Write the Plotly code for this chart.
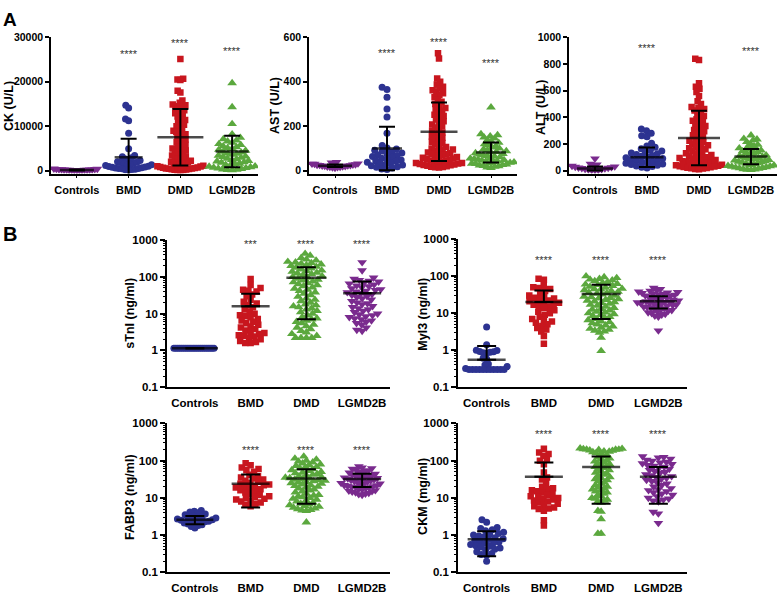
import math
import plotly.graph_objects as go

W, H = 782, 595
FONT = "Liberation Sans, Arial, sans-serif"
GROUPS = ["Controls", "BMD", "DMD", "LGMD2B"]

# ---------------- Panel A (linear) ----------------
ck_controls = [420, 380, 350, 310, 280, 260, 240, 220, 200, 190, 170, 160, 150, 130, 120, 100, 90, 70]
ck_bmd = [14700, 14100, 11600, 11200, 8400, 4900, 3400, 3100, 2900, 2600, 2400, 2300, 2000, 1900, 1800,
          1700, 1500, 1400, 1300, 1200, 1150, 1000, 900, 800, 750, 650, 600, 500, 450, 400, 300, 250, 200, 120]
ck_dmd = [25100, 20700, 20500, 20400, 18000, 17600, 15800, 15300, 14900, 14700, 14500, 14300, 14000, 13600,
          13200, 12900, 12600, 12200, 11900, 11400, 11000, 10700, 10300, 10000, 9700, 9400, 9000, 8700, 8500,
          8200, 7900, 7600, 7300, 7000, 6700, 6400, 6100, 5800, 5500, 5300, 5000, 4800, 4500, 4300, 4100, 3900,
          3600, 3400, 3200, 3000, 2800, 2600, 2400, 2200, 2000, 1900, 1700, 1600, 1400, 1300, 1200, 1100, 1000,
          900, 800, 700, 650, 600, 500, 450, 400, 350, 300, 250, 200, 150, 100, 60]
ck_lgmd = [19700, 14300, 10500, 8200, 7400, 7100, 6800, 6600, 6300, 6000, 5800, 5500, 5300, 5100, 4900, 4700,
           4500, 4300, 4100, 3900, 3800, 3600, 3400, 3200, 3100, 2900, 2700, 2600, 2400, 2200, 2100, 1900, 1800,
           1600, 1500, 1300, 1200, 1000, 900, 800, 700, 600, 500, 400, 300, 250, 150, 100]
ck_mean = [150, 3000, 7500, 4300]
ck_sd = [100, 4150, 6350, 3550]

ast_controls = [38, 36, 34, 32, 31, 30, 28, 27, 26, 25, 24, 23, 22, 21, 20, 19, 18, 17, 16, 15, 14, 12]
ast_bmd = [375, 365, 330, 278, 242, 168, 113, 102, 98, 92, 88, 84, 80, 76, 72, 68, 64, 60, 56, 52, 48, 45,
           42, 38, 35, 32, 28, 25, 22, 18, 15, 12, 8, 5]
ast_dmd = [528, 505, 415, 400, 388, 378, 370, 362, 355, 348, 340, 330, 318, 310, 300, 292, 282, 276, 268, 260,
           252, 246, 238, 230, 222, 215, 208, 200, 194, 186, 180, 172, 166, 160, 154, 148, 142, 136, 130, 124,
           118, 112, 106, 100, 95, 90, 86, 82, 78, 74, 70, 66, 62, 58, 55, 52, 49, 46, 43, 40, 37, 34, 32, 30,
           28, 26, 24, 22, 20, 18, 16, 15, 14, 35, 45, 60, 75, 95]
ast_lgmd = [285, 165, 160, 155, 150, 145, 138, 132, 126, 120, 115, 110, 105, 100, 96, 92, 88, 85, 82, 79, 76,
            73, 70, 67, 64, 61, 58, 55, 52, 50, 48, 46, 44, 42, 40, 38, 36, 34, 32, 30, 28, 26, 24, 22, 20, 18,
            15, 12]
ast_mean = [22, 100, 175, 82]
ast_sd = [6, 98, 132, 45]

alt_controls = [90, 50, 45, 40, 35, 30, 28, 25, 22, 20, 18, 15, 12, 10, 8, 6, 5, 4]
alt_bmd = [312, 300, 280, 262, 255, 205, 185, 175, 165, 155, 148, 140, 132, 126, 120, 114, 108, 102, 96, 90,
           85, 80, 75, 70, 65, 60, 55, 50, 45, 40, 35, 30, 25, 20]
alt_dmd = [840, 830, 655, 630, 615, 590, 560, 520, 500, 478, 470, 462, 452, 440, 425, 410, 398, 385, 375, 365,
           355, 345, 335, 325, 315, 305, 295, 285, 275, 265, 255, 245, 235, 225, 215, 205, 198, 190, 182, 175,
           168, 160, 152, 145, 138, 130, 124, 118, 112, 106, 100, 95, 90, 85, 80, 75, 70, 65, 60, 56, 52, 48,
           44, 40, 36, 32, 28, 25, 22, 20, 18, 15, 12, 10, 30, 50, 70, 95]
alt_lgmd = [265, 240, 235, 228, 215, 200, 195, 185, 175, 168, 160, 152, 146, 140, 134, 128, 122, 116, 110,
            105, 100, 96, 92, 88, 84, 80, 76, 72, 68, 64, 60, 56, 52, 48, 44, 40, 36, 33, 30, 27, 24, 21, 18,
            15, 12, 10, 8, 6]
alt_mean = [15, 100, 245, 105]
alt_sd = [15, 73, 205, 58]

# ---------------- Panel B (log) ----------------
stni_controls = [1.15, 1.15, 1.15, 1.15, 1.15, 1.15, 1.15, 1.15, 1.15, 1.15, 1.15,
                 1.15, 1.15, 1.15, 1.15, 1.15, 1.15, 1.15, 1.15, 1.15, 1.15, 1.15]
stni_bmd = [88, 60, 50, 45, 42, 40, 33, 30, 24, 21, 19, 17, 15, 13, 11.5, 10, 9, 8.5, 8, 7.2, 6.5, 6, 5.5, 5,
            4.5, 4.2, 3.8, 3.5, 3.2, 3, 2.8, 2.6, 2.5, 2.4, 2.2, 2.0, 1.8, 1.7, 1.6, 1.6]
stni_dmd = [430, 380, 330, 300, 280, 260, 250, 240, 230, 220, 210, 200, 190, 180, 170, 160, 150, 145, 140, 130,
            125, 120, 112, 105, 100, 95, 90, 85, 80, 76, 72, 68, 64, 60, 56, 52, 48, 45, 42, 38, 35, 32, 29, 26,
            24, 22, 20, 18, 17, 16, 15, 14, 13, 12, 11, 10, 9, 8, 7.5, 7, 6.5, 6, 5.5, 5, 4.6, 4.2, 3.8, 3.4,
            3.1, 2.8, 2.5, 2.2, 2.2, 2.2, 2.2]
stni_lgmd = [250, 150, 95, 88, 82, 78, 74, 70, 66, 62, 58, 55, 52, 49, 46, 44, 42, 40, 38, 36, 34, 32, 30, 28,
             26, 24, 22, 20, 19, 18, 16, 15, 14, 13, 12, 11, 10, 9.5, 9, 8.5, 8, 7.5, 7, 6.5, 6, 5.5, 5, 4.2,
             3.6, 3.4]
stni_mean = [1.15, 16, 95, 36]
stni_sd = [0.02, 19, 88, 39]

myl3_controls = [4.2, 1.4, 1.0, 0.98, 0.92, 0.9, 0.88, 0.85, 0.82, 0.6, 0.58, 0.42, 0.4, 0.36, 0.32, 0.3, 0.3,
                 0.3, 0.3, 0.3, 0.3, 0.3, 0.3, 0.3, 0.3, 0.3]
myl3_bmd = [85, 80, 55, 50, 48, 45, 40, 35, 30, 28, 26, 25, 24, 22, 21, 20, 19, 18, 17, 16, 15, 14, 12, 11, 10,
            9, 8, 7, 6.5, 6, 5.5, 5, 4.5, 4, 3.6, 3.2, 2.4, 1.5]
myl3_dmd = [100, 95, 90, 85, 82, 78, 74, 70, 66, 62, 60, 58, 55, 52, 49, 46, 45, 44, 42, 40, 38, 36, 35, 34, 32,
            30, 28, 27, 26, 25, 24, 23, 22, 21, 20, 19, 18, 17, 16, 15, 14, 13, 12.5, 12, 11, 10.5, 10, 9.5, 9,
            8.5, 8, 7.5, 7, 6.5, 6, 5.7, 5.4, 5, 4.7, 4.4, 4.1, 3.8, 3.6, 3.4, 3.2, 3.0, 2.2, 0.95]
myl3_lgmd = [48, 45, 42, 40, 38, 37, 36, 35, 34, 33, 32, 31, 30, 29, 28, 27, 26, 25, 24, 23, 22, 21.5, 21, 20.5,
             20, 19.5, 19, 18.5, 18, 17.5, 17, 16.5, 16, 15.5, 15, 14.5, 14, 13.5, 13, 12.5, 12, 11.5, 11, 10.5,
             10, 9.5, 9, 8.5, 8, 3.4]
myl3_mean = [0.55, 20, 33, 21]
myl3_sd = [0.75, 21, 26, 7.7]

fabp3_controls = [4.6, 4.4, 4.2, 4.0, 3.7, 3.5, 3.3, 3.1, 3.0, 2.9, 2.8, 2.7, 2.6, 2.5, 2.45, 2.4, 2.35, 2.3,
                  2.2, 2.1, 2.0, 1.9, 1.8, 1.7, 1.55]
fabp3_bmd = [85, 75, 65, 60, 55, 50, 42, 38, 35, 33, 31, 29, 27, 25, 24, 23, 22, 21, 20, 19, 18, 17, 16, 15,
             14, 13, 12, 11, 10.5, 10, 9.5, 9, 8.5, 8, 7.5, 7, 6.5, 6]
fabp3_dmd = [130, 115, 108, 100, 95, 90, 85, 80, 76, 72, 68, 65, 62, 59, 56, 53, 50, 48, 46, 44, 42, 40, 38, 36,
             35, 34, 33, 32, 31, 30, 29, 28, 27, 26, 25, 24, 23, 22, 21, 20, 19, 18, 17, 16, 15, 14, 13, 12,
             11.5, 11, 10.5, 10, 9.5, 9, 8.5, 8, 7.5, 7, 6.7, 6.4, 6.1, 5.8, 5.5, 5.2, 5.0, 4.8, 4.6, 4.5, 2.2]
fabp3_lgmd = [70, 65, 62, 60, 58, 55, 52, 50, 48, 46, 44, 42, 40, 39, 38, 37, 36, 35, 34, 33, 32, 31, 30, 29,
              28, 27, 26, 25, 24.5, 24, 23, 22, 21.5, 21, 20.5, 20, 19.5, 19, 18, 17.5, 17, 16, 15.5, 15, 14.5,
              14, 13.5, 13, 12.5, 12]
fabp3_mean = [2.6, 24, 33, 32]
fabp3_sd = [0.65, 18.5, 26, 12.5]

ckm_controls = [2.6, 2.2, 1.6, 1.5, 1.4, 1.3, 1.2, 1.1, 1.05, 1.0, 0.95, 0.9, 0.85, 0.8, 0.76, 0.72, 0.68, 0.65,
                0.62, 0.6, 0.56, 0.52, 0.5, 0.48, 0.45, 0.42, 0.4, 0.36, 0.32, 0.3, 0.29, 0.2]
ckm_bmd = [210, 165, 150, 135, 105, 100, 80, 48, 35, 31, 25, 20, 18, 17, 16, 15, 14, 13, 12, 11, 10.5, 10, 9.5,
           9, 8.5, 8, 7.5, 7, 6.5, 6, 5.5, 5.2, 5, 4.5, 2.5, 1.8]
ckm_dmd = [215, 210, 205, 200, 200, 198, 195, 190, 185, 180, 175, 170, 160, 150, 140, 130, 122, 115, 108, 100,
           95, 90, 85, 80, 76, 72, 68, 64, 60, 56, 52, 48, 45, 42, 39, 36, 34, 32, 30, 28, 26, 24, 22, 20, 19,
           18, 17, 16, 15, 14, 13, 12, 11, 10, 9.5, 9, 8.5, 8, 7.5, 4.5, 4.3, 2.7, 1.1, 1.1]
ckm_lgmd = [130, 125, 120, 112, 105, 98, 92, 88, 84, 80, 76, 72, 68, 64, 60, 56, 52, 49, 46, 43, 40, 38, 36, 34,
            32, 30, 28, 26, 24, 22, 20, 18, 17, 16, 15, 14, 13, 12, 11, 10, 9.5, 9, 8.5, 8, 4.2, 3.8, 2.1]
ckm_mean = [0.77, 37, 68, 37]
ckm_sd = [0.5, 52, 61, 30]

# ---------------- styles ----------------
PURPLE = "#7A2B8E"
BLUE = "#2D3391"
RED = "#C8161E"
GREEN = "#5BA83E"
STYLE_A = dict(colors=[PURPLE, BLUE, RED, GREEN],
               symbols=["triangle-down", "circle", "square", "triangle-up"])
STYLE_B = dict(colors=[BLUE, RED, GREEN, PURPLE],
               symbols=["circle", "square", "triangle-up", "triangle-down"])

panels = [
    dict(data=[ck_controls, ck_bmd, ck_dmd, ck_lgmd], mean=ck_mean, sd=ck_sd, log=False,
         yrange=[-662, 30000], dtick=10000, xpix=(51, 258), ypix=(32, 171), mean_px=(34, 28, 46, 33),
         stars=[None, ("****", 26700), ("****", 29100), ("****", 27350)],
         title="CK (U/L)", title_xy=(9, 102), style=STYLE_A),
    dict(data=[ast_controls, ast_bmd, ast_dmd, ast_lgmd], mean=ast_mean, sd=ast_sd, log=False,
         yrange=[-13, 600], dtick=200, xpix=(309, 517), ypix=(32, 171), mean_px=(34, 30, 37, 30),
         stars=[None, ("****", 539), ("****", 587), ("****", 495)],
         title="AST (U/L)", title_xy=(275, 102), style=STYLE_A),
    dict(data=[alt_controls, alt_bmd, alt_dmd, alt_lgmd], mean=alt_mean, sd=alt_sd, log=False,
         yrange=[-22, 1000], dtick=200, xpix=(569, 777), ypix=(32, 171), mean_px=(36, 33, 42, 33),
         stars=[None, ("****", 935), ("****", 1051), ("****", 913)],
         title="ALT (U/L)", title_xy=(541, 104), style=STYLE_A),
    dict(data=[stni_controls, stni_bmd, stni_dmd, stni_lgmd], mean=stni_mean, sd=stni_sd, log=True,
         yrange=[-1, 3], xpix=(167, 390), ypix=(239, 389), mean_px=(46, 38, 40, 38),
         stars=[None, ("***", 900), ("****", 900), ("****", 900)],
         title="sTnI (ng/ml)", title_xy=(130, 314), style=STYLE_B),
    dict(data=[myl3_controls, myl3_bmd, myl3_dmd, myl3_lgmd], mean=myl3_mean, sd=myl3_sd, log=True,
         yrange=[-1, 3], xpix=(458, 687), ypix=(238, 389), mean_px=(38, 37, 39, 37),
         stars=[None, ("****", 316), ("****", 316), ("****", 316)],
         title="Myl3 (ng/ml)", title_xy=(423, 315), style=STYLE_B),
    dict(data=[fabp3_controls, fabp3_bmd, fabp3_dmd, fabp3_lgmd], mean=fabp3_mean, sd=fabp3_sd, log=True,
         yrange=[-1, 3], xpix=(167, 390), ypix=(426, 578), mean_px=(37, 38, 40, 38),
         stars=[None, ("****", 218), ("****", 218), ("****", 218)],
         title="FABP3 (ng/ml)", title_xy=(130, 502), style=STYLE_B),
    dict(data=[ckm_controls, ckm_bmd, ckm_dmd, ckm_lgmd], mean=ckm_mean, sd=ckm_sd, log=True,
         yrange=[-1, 3], xpix=(458, 687), ypix=(426, 578), mean_px=(38, 38, 38, 37),
         stars=[None, ("****", 575), ("****", 575), ("****", 575)],
         title="CKM (mg/ml)", title_xy=(423, 501), style=STYLE_B),
]

# plotly draws a 'line-ew' marker 1.4x as long as its size
LINE_EW_FACTOR = 1.4


def swarm(ypix, d):
    """Beeswarm x-offsets (pixels) for points at the given y pixel positions."""
    order = sorted(range(len(ypix)), key=lambda i: ypix[i])
    placed = []
    offs = [0.0] * len(ypix)
    for i in order:
        y = ypix[i]
        near = [(px, py) for (px, py) in placed if abs(py - y) < d]
        cands = [0.0]
        for px, py in near:
            dx = math.sqrt(max(d * d - (y - py) ** 2, 0.0))
            cands += [px + dx, px - dx]
        cands.sort(key=lambda c: (round(abs(c), 6), c))
        for c in cands:
            if all((c - px) ** 2 + (y - py) ** 2 >= d * d - 1e-6 for px, py in near):
                offs[i] = c
                break
        placed.append((offs[i], y))
    return offs


fig = go.Figure()
annotations = []
layout_axes = {}

for k, p in enumerate(panels, start=1):
    xs = "x" if k == 1 else f"x{k}"
    ys = "y" if k == 1 else f"y{k}"
    x0, x1 = p["xpix"]
    y0, y1 = p["ypix"]
    wpx, hpx = x1 - x0, y1 - y0
    r0, r1 = p["yrange"]
    xppu = wpx / 4.0
    isB = p["log"]
    msize = 7
    dsp = 5.4
    maxhalf = 23 if not isB else 21

    def ypx(v):
        t = math.log10(v) if isB else v
        return (t - r0) / (r1 - r0) * hpx

    for g, vals in enumerate(p["data"]):
        offs = swarm([ypx(v) for v in vals], dsp)
        m = max(abs(o) for o in offs) if offs else 0
        if m > maxhalf:
            offs = [o * maxhalf / m for o in offs]
        sym = p["style"]["symbols"][g]
        size = msize + (1.5 if "triangle" in sym else 0) - (0.5 if sym == "square" else 0)
        fig.add_trace(go.Scatter(
            x=[g + o / xppu for o in offs], y=vals, mode="markers",
            marker=dict(symbol=sym, size=size, color=p["style"]["colors"][g], line=dict(width=0)),
            xaxis=xs, yaxis=ys, showlegend=False, hoverinfo="skip"))

    # mean +- SD
    means, sds = p["mean"], p["sd"]
    minus = [s if (not isB or m - s > 0) else 0 for m, s in zip(means, sds)]
    fig.add_trace(go.Scatter(
        x=[0, 1, 2, 3], y=means, mode="markers",
        marker=dict(symbol="line-ew", size=[w / LINE_EW_FACTOR for w in p["mean_px"]], color="black",
                    line=dict(color="black", width=2.5)),
        error_y=dict(type="data", symmetric=False, array=sds, arrayminus=minus,
                     color="black", thickness=2, width=8 if not isB else 9.5),
        xaxis=xs, yaxis=ys, showlegend=False, hoverinfo="skip"))

    tick_size = 10.5 if not isB else 11.5
    cat_size = 11 if not isB else 11.5
    xa = dict(domain=[x0 / W, x1 / W], range=[-0.5, 3.5], anchor=ys, tickmode="array",
              tickvals=[0, 1, 2, 3], ticktext=GROUPS, showline=True, linecolor="black", linewidth=1.5,
              ticks="" if isB else "outside", ticklen=3, tickwidth=1, tickcolor="black",
              showgrid=False, zeroline=False, ticklabelstandoff=2 if not isB else 4,
              tickfont=dict(family=FONT, size=cat_size, color="black", weight="bold"))
    ya = dict(domain=[1 - y1 / H, 1 - y0 / H], range=p["yrange"], anchor=xs, showline=True,
              linecolor="black", linewidth=1.5, ticks="outside", ticklen=4, tickwidth=1.5,
              tickcolor="black", showgrid=False, zeroline=False, exponentformat="none",
              separatethousands=False,
              tickfont=dict(family=FONT, size=tick_size, color="black", weight="bold"))
    if isB:
        ya.update(type="log", tickmode="linear", tick0=0, dtick=1, ticklen=5,
                  minor=dict(ticks="outside", ticklen=2.5, tickwidth=1, tickcolor="black",
                             tickmode="array",
                             tickvals=[m * 10 ** e for e in (-1, 0, 1, 2) for m in range(2, 10)]))
    else:
        ya.update(type="linear", tickmode="linear", tick0=0, dtick=p["dtick"], tickformat="d")
    layout_axes["xaxis" if k == 1 else f"xaxis{k}"] = xa
    layout_axes["yaxis" if k == 1 else f"yaxis{k}"] = ya

    # stars
    for g, st in enumerate(p["stars"]):
        if st is None:
            continue
        txt, yv = st
        annotations.append(dict(x=g, y=math.log10(yv) if isB else yv, xref=xs, yref=ys, text=txt,
                                showarrow=False, yanchor="middle", yshift=-2,
                                font=dict(family=FONT, size=11, color="#333333")))
    # axis title
    tx, ty = p["title_xy"]
    annotations.append(dict(x=tx / W, y=1 - ty / H, xref="paper", yref="paper", text=p["title"],
                            textangle=-90, showarrow=False, xanchor="center", yanchor="middle",
                            font=dict(family=FONT, size=12.5, color="black", weight="bold")))

annotations.append(dict(x=1 / W, y=1 - 1 / H, xref="paper", yref="paper", text="A", showarrow=False,
                        xanchor="left", yanchor="top",
                        font=dict(family=FONT, size=19, color="black", weight="bold")))
annotations.append(dict(x=1 / W, y=1 - 219 / H, xref="paper", yref="paper", text="B", showarrow=False,
                        xanchor="left", yanchor="top",
                        font=dict(family=FONT, size=20, color="black", weight="bold")))

fig.update_layout(width=W, height=H, margin=dict(l=0, r=0, t=0, b=0), paper_bgcolor="white",
                  plot_bgcolor="white", showlegend=False, font=dict(family=FONT, color="black"),
                  annotations=annotations, **layout_axes)

# remove the browser's default page margin so the figure sits at the window origin
fig.write_html("out.html", config={"displayModeBar": False},
               post_script="document.body.style.margin='0';")
